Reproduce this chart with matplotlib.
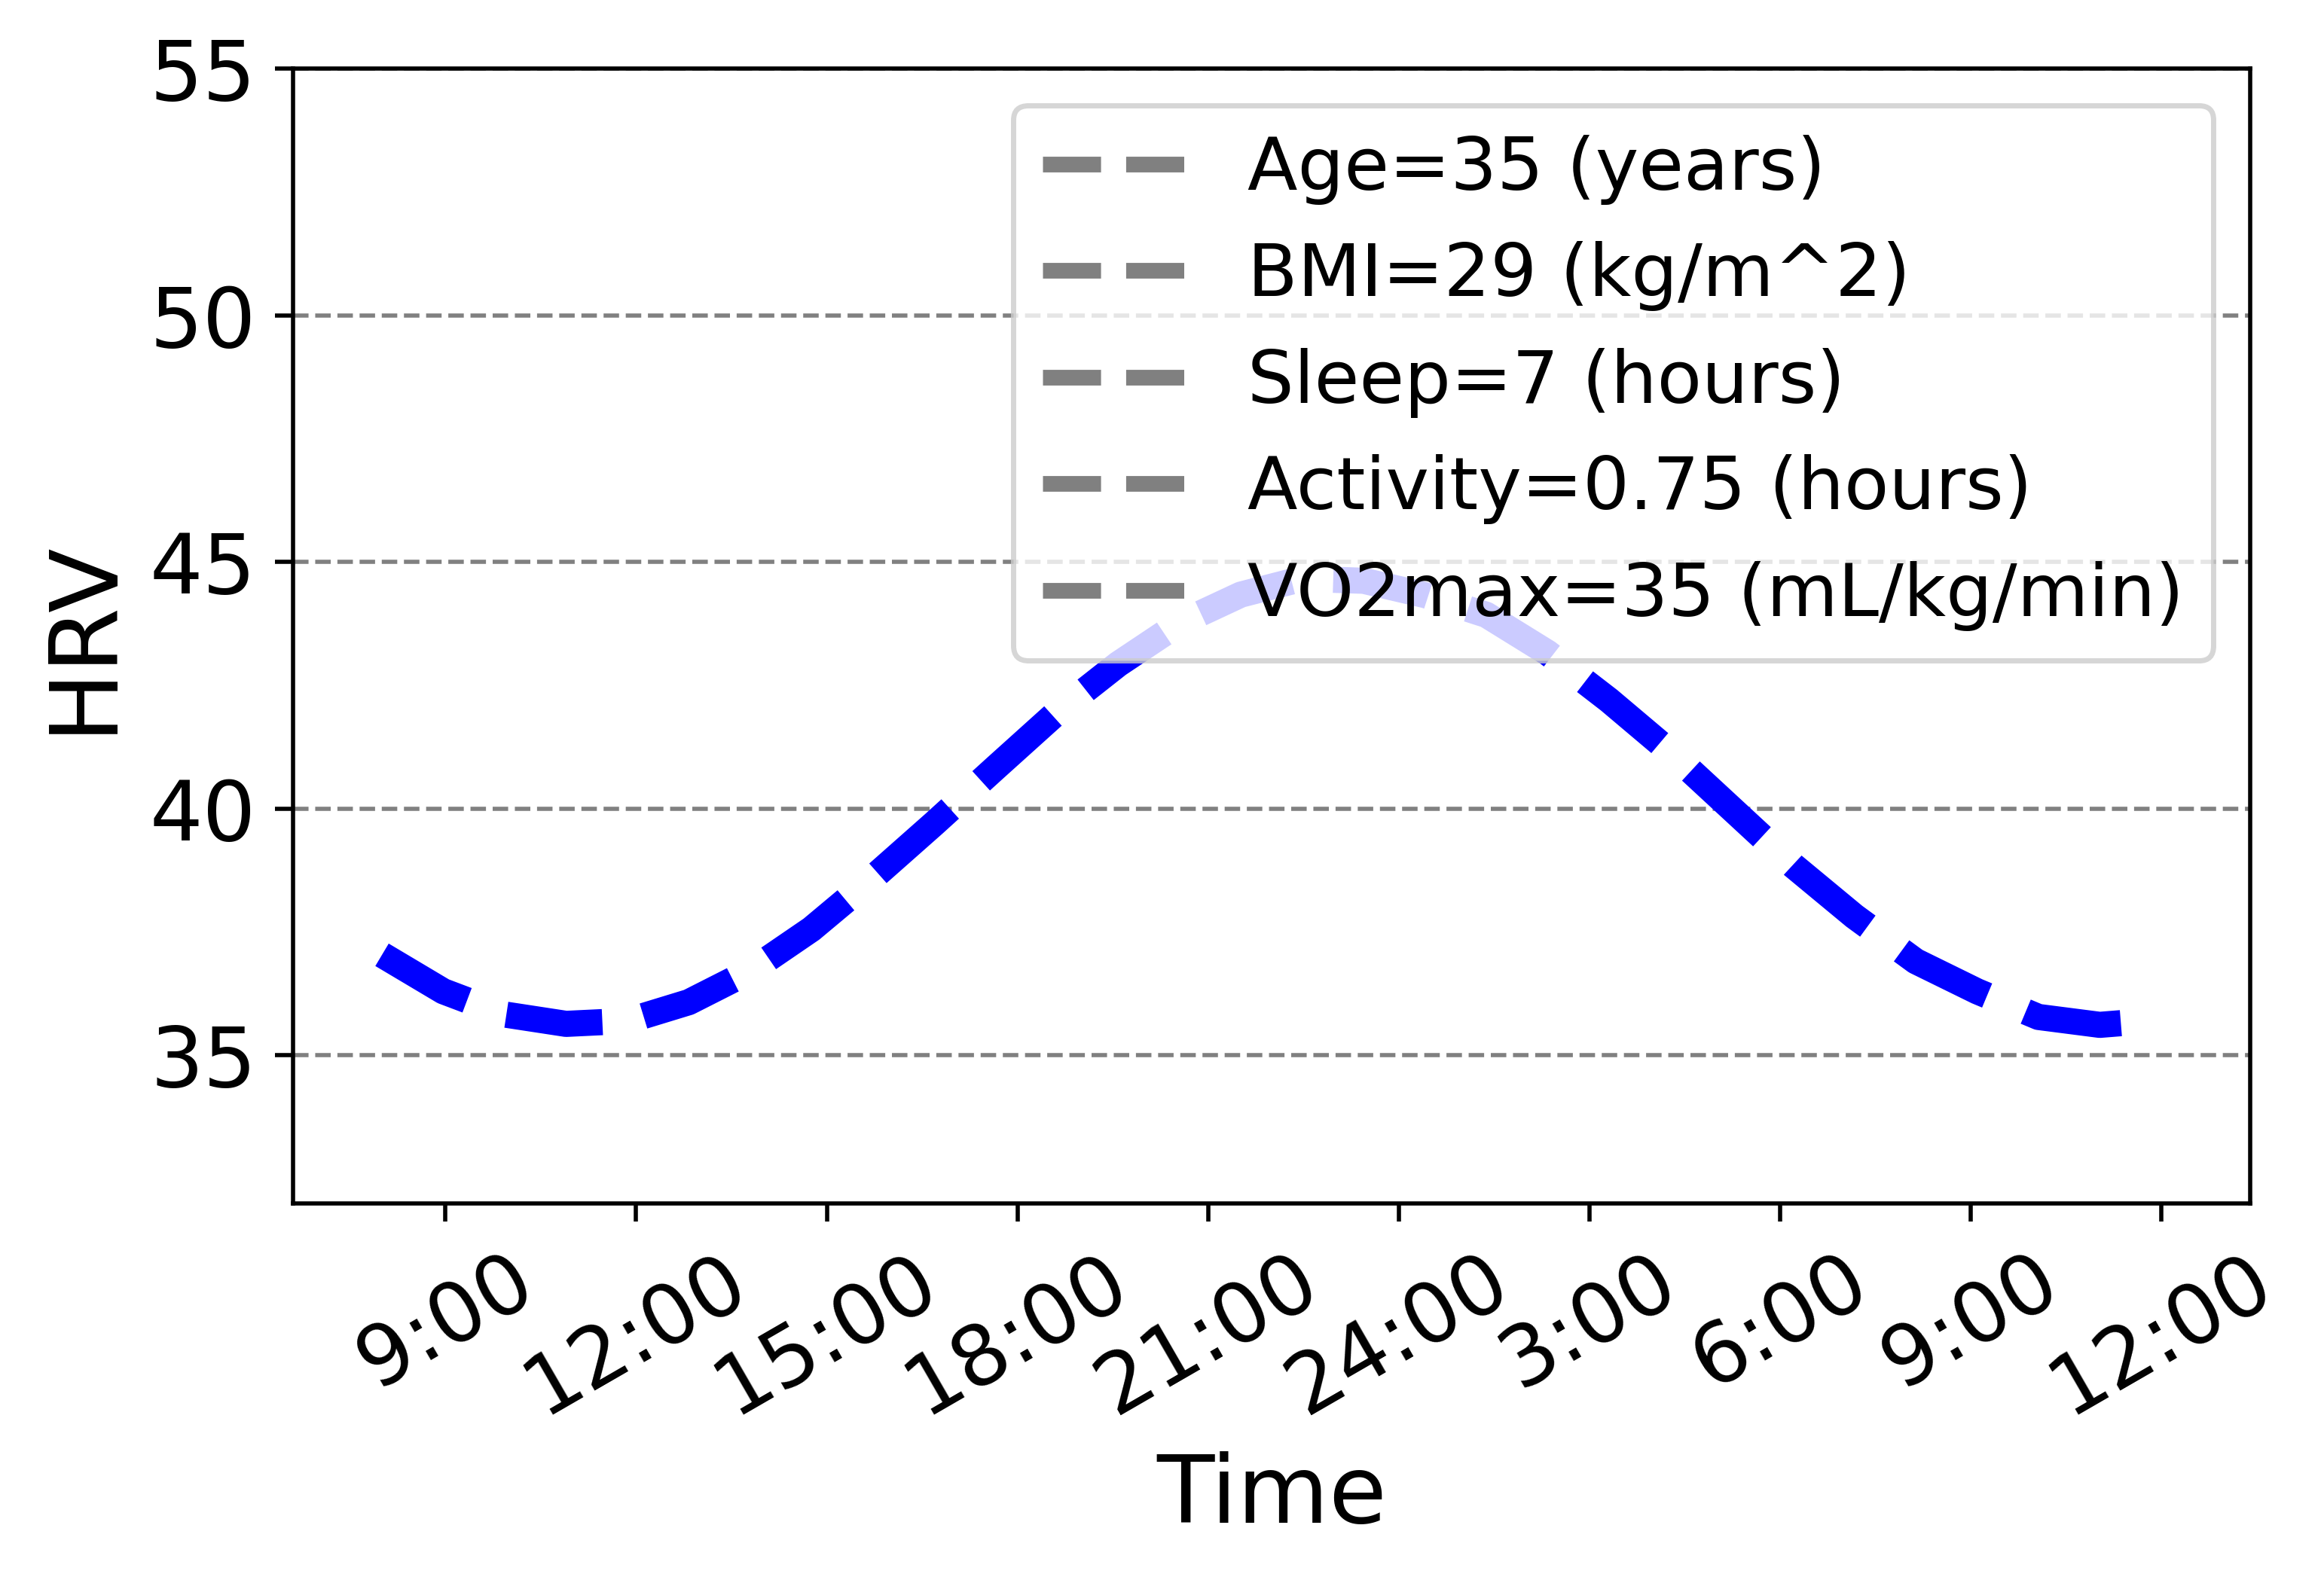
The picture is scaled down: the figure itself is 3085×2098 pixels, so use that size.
import numpy as np
import matplotlib
matplotlib.use("Agg")
import matplotlib.pyplot as plt

# 30 evenly spaced samples from 8:00 to 12:00 the next day (hours)
hours = np.linspace(8, 36, 30)
hrv = [37.04, 36.30, 35.83, 35.64, 35.70, 36.08, 36.71, 37.56, 38.60, 39.70,
       40.83, 41.95, 42.93, 43.76, 44.34, 44.66, 44.62, 44.33, 43.93, 43.16,
       42.20, 41.15, 40.00, 38.85, 37.82, 36.91, 36.30, 35.78, 35.62, 35.72]

tick_hours = [9, 12, 15, 18, 21, 24, 27, 30, 33, 36]
tick_labels = ["9:00", "12:00", "15:00", "18:00", "21:00", "24:00",
               "3:00", "6:00", "9:00", "12:00"]

legend_labels = ["Age=35 (years)", "BMI=29 (kg/m^2)", "Sleep=7 (hours)",
                 "Activity=0.75 (hours)", "VO2max=35 (mL/kg/min)"]

fig = plt.figure(figsize=(6.17, 4.196), dpi=500)
ax = fig.add_axes([0.1261, 0.2383, 0.8421, 0.7183])

ax.plot(hours, hrv, '--', color='blue', lw=5)
for lab in legend_labels:
    ax.plot([], [], '--', color='gray', lw=3, label=lab)

ax.set_ylim(32, 55)
ax.set_yticks([35, 40, 45, 50, 55])
ax.set_xticks(tick_hours)
ax.set_xticklabels(tick_labels, rotation=30)
ax.tick_params(labelsize=16)
ax.yaxis.grid(True, linestyle='--', color='gray', linewidth=0.8)

ax.set_xlabel("Time", fontsize=18)
ax.set_ylabel("HRV", fontsize=18)
ax.legend(loc='upper right', fontsize=14)

fig.savefig("out.png", dpi=500)
